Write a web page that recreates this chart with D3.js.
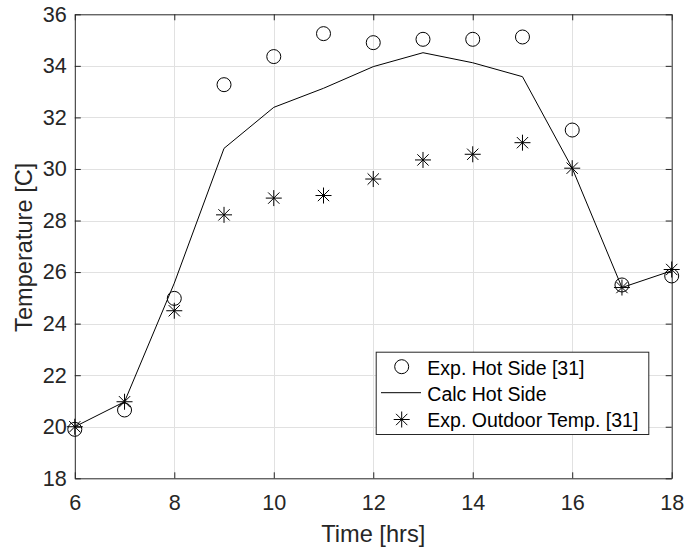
<!DOCTYPE html>
<html>
<head>
<meta charset="utf-8">
<script src="https://cdn.jsdelivr.net/npm/d3@7"></script>
<style>
  html, body { margin: 0; padding: 0; background: #fff; }
  svg { display: block; }
  text { font-family: "Liberation Sans", Arial, Helvetica, sans-serif; }
</style>
</head>
<body>
<svg id="chart" width="685" height="550"></svg>
<script>
// Hourly temperatures, 6:00 to 18:00
const hours = [6, 7, 8, 9, 10, 11, 12, 13, 14, 15, 16, 17, 18];
const expHotSide = [19.9, 20.65, 24.98, 33.27, 34.36, 35.25, 34.9, 35.03, 35.03, 35.12, 31.51, 25.5, 25.85];
const calcHotSide = [20.0, 20.97, 25.57, 30.8, 32.39, 33.13, 33.97, 34.51, 34.12, 33.58, 30.03, 25.4, 26.05];
const expOutdoor = [20.0, 20.97, 24.5, 28.22, 28.87, 28.97, 29.61, 30.35, 30.57, 31.02, 30.03, 25.4, 26.1];
const xTicks = [6, 8, 10, 12, 14, 16, 18];
const yTicks = [18, 20, 22, 24, 26, 28, 30, 32, 34, 36];
const legendLabels = ["Exp. Hot Side [31]", "Calc Hot Side", "Exp. Outdoor Temp. [31]"];

const svg = d3.select("#chart");
const plotL = 74.8, plotR = 671.7, plotT = 14.3, plotB = 478.3;
const axisColor = "#262626";

const x = d3.scaleLinear().domain([6, 18]).range([plotL, plotR]);
const y = d3.scaleLinear().domain([18, 36]).range([plotB, plotT]);

// grid
const grid = svg.append("g").attr("stroke", "#e1e1e1").attr("stroke-width", 1);
grid.selectAll("line.gx").data(xTicks.slice(1, -1)).join("line")
  .attr("x1", d => Math.round(x(d)) + 0.5).attr("x2", d => Math.round(x(d)) + 0.5)
  .attr("y1", plotT).attr("y2", plotB);
grid.selectAll("line.gy").data(yTicks.slice(1, -1)).join("line")
  .attr("y1", d => Math.round(y(d)) + 0.5).attr("y2", d => Math.round(y(d)) + 0.5)
  .attr("x1", plotL).attr("x2", plotR);

// axes with inward ticks on all four sides
const tickLen = 6;
const xAxisB = d3.axisBottom(x).tickValues(xTicks).tickSizeInner(-tickLen).tickSizeOuter(0).tickPadding(16);
const xAxisT = d3.axisTop(x).tickValues(xTicks).tickSizeInner(-tickLen).tickSizeOuter(0).tickFormat("");
const yAxisL = d3.axisLeft(y).tickValues(yTicks).tickSizeInner(-tickLen).tickSizeOuter(0).tickPadding(8);
const yAxisR = d3.axisRight(y).tickValues(yTicks).tickSizeInner(-tickLen).tickSizeOuter(0).tickFormat("");

function styleAxis(g) {
  g.select(".domain").attr("stroke", axisColor);
  g.selectAll(".tick line").attr("stroke", axisColor);
  g.selectAll(".tick text").attr("fill", axisColor).attr("font-size", 21.6)
    .attr("font-family", "'Liberation Sans', Arial, sans-serif");
}
svg.append("g").attr("transform", `translate(0,${plotB})`).call(xAxisB).call(styleAxis);
svg.append("g").attr("transform", `translate(0,${plotT})`).call(xAxisT).call(styleAxis);
svg.append("g").attr("transform", `translate(${plotL},0)`).call(yAxisL).call(styleAxis);
svg.append("g").attr("transform", `translate(${plotR},0)`).call(yAxisR).call(styleAxis);

// axis titles
svg.append("text").attr("x", (plotL + plotR) / 2).attr("y", 541.7)
  .attr("text-anchor", "middle").attr("font-size", 23.6).attr("fill", axisColor)
  .text("Time [hrs]");
svg.append("text").attr("transform", `translate(31.7,${(plotT + plotB) / 2 + 1}) rotate(-90)`)
  .attr("text-anchor", "middle").attr("font-size", 23.6).attr("fill", axisColor)
  .text("Temperature [C]");

// marker shapes
function asterisk(g, cx, cy, r) {
  const d = r * Math.SQRT1_2;
  const p = `M${cx - r},${cy}L${cx + r},${cy}M${cx},${cy - r}L${cx},${cy + r}` +
            `M${cx - d},${cy - d}L${cx + d},${cy + d}M${cx - d},${cy + d}L${cx + d},${cy - d}`;
  g.append("path").attr("d", p).attr("stroke", "#000").attr("stroke-width", 1).attr("fill", "none");
}

const plot = svg.append("g");

// calculated hot side
const lineGen = d3.line().x((d, i) => x(hours[i])).y(d => y(d));
plot.append("path").datum(calcHotSide).attr("d", lineGen)
  .attr("fill", "none").attr("stroke", "#000").attr("stroke-width", 1);

// measured hot side
plot.selectAll("circle.hot").data(expHotSide).join("circle")
  .attr("cx", (d, i) => x(hours[i])).attr("cy", d => y(d)).attr("r", 7)
  .attr("fill", "none").attr("stroke", "#000").attr("stroke-width", 1);

// measured outdoor temperature
const ast = plot.append("g");
expOutdoor.forEach((d, i) => asterisk(ast, x(hours[i]), y(d), 8));

// legend
const lg = svg.append("g");
const lx = 375.7, ly = 351.7, lw = 272.6, lh = 82.3;
lg.append("rect").attr("x", lx + 0.5).attr("y", ly + 0.5).attr("width", lw).attr("height", lh)
  .attr("fill", "#fff").attr("stroke", axisColor).attr("stroke-width", 1);
const rowY = [366.7, 392.7, 419.5];
const rowBase = [375, 400.8, 426.7];
lg.append("circle").attr("cx", 401.7).attr("cy", rowY[0]).attr("r", 7)
  .attr("fill", "none").attr("stroke", "#000");
lg.append("line").attr("x1", 381).attr("x2", 421).attr("y1", rowY[1]).attr("y2", rowY[1])
  .attr("stroke", "#000");
asterisk(lg, 401.7, rowY[2], 8);
lg.selectAll("text").data(legendLabels).join("text")
  .attr("x", 427.3).attr("y", (d, i) => rowBase[i])
  .attr("font-size", 19.5).attr("fill", "#000").text(d => d);
</script>
</body>
</html>
